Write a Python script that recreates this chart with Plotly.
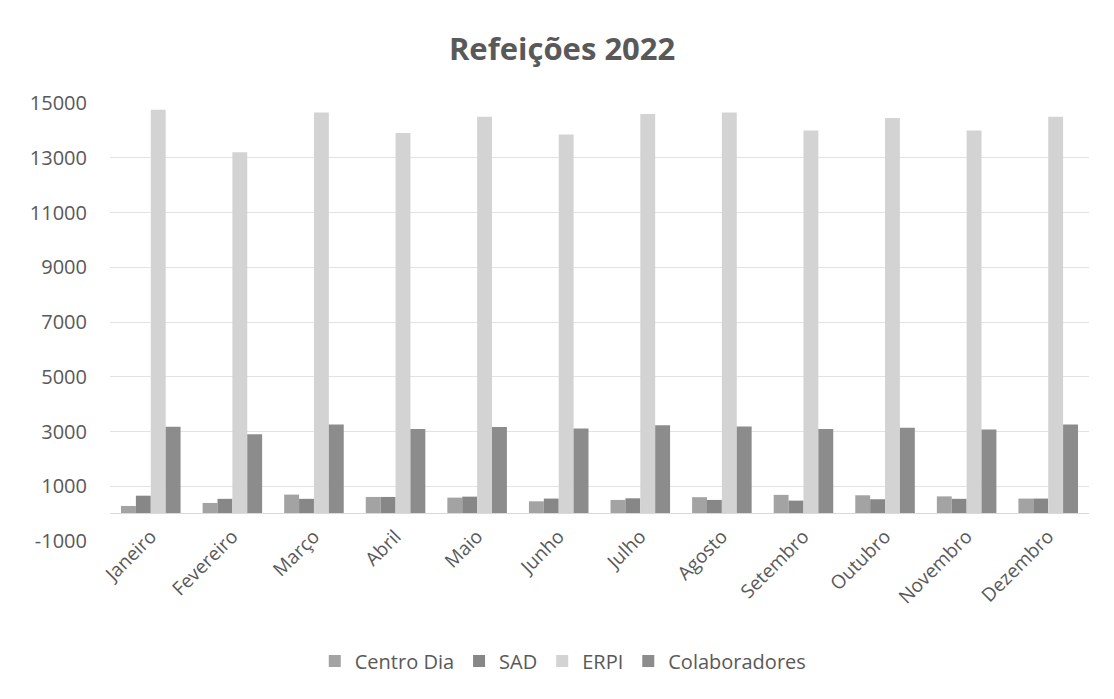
import plotly.graph_objects as go

months = ["Janeiro", "Fevereiro", "Março", "Abril", "Maio", "Junho", "Julho",
          "Agosto", "Setembro", "Outubro", "Novembro", "Dezembro"]
centro_dia = [280, 390, 695, 610, 585, 450, 500, 600, 685, 670, 630, 550]
sad = [655, 540, 540, 610, 620, 550, 560, 500, 475, 525, 540, 550]
erpi = [14750, 13200, 14650, 13900, 14500, 13850, 14600, 14650, 14000, 14450, 14000, 14500]
colaboradores = [3170, 2900, 3260, 3090, 3160, 3110, 3230, 3180, 3090, 3135, 3075, 3260]
y_ticks = [-1000, 1000, 3000, 5000, 7000, 9000, 11000, 13000, 15000]
y_tick_labels = ["-1000", "1000", "3000", "5000", "7000", "9000", "11000", "13000", "15000"]

series = [
    ("Centro Dia", centro_dia, "#a3a3a3"),
    ("SAD", sad, "#878787"),
    ("ERPI", erpi, "#d3d3d3"),
    ("Colaboradores", colaboradores, "#8c8c8c"),
]

fig = go.Figure()
for name, vals, color in series:
    fig.add_trace(go.Bar(x=months, y=vals, name=name, marker_color=color,
                         marker_line_width=0))

font_family = "Open Sans, Lato, sans-serif"
fig.update_layout(
    width=1106, height=691,
    paper_bgcolor="white", plot_bgcolor="white",
    margin=dict(l=102, r=25, t=95, b=158),
    barmode="group", bargap=0.27, bargroupgap=0,
    title=dict(text="<b>Refeições 2022</b>", x=0.501, xanchor="center", y=0.941, yanchor="middle",
               font=dict(family=font_family, size=31, color="#595959")),
    font=dict(family=font_family, color="#595959"),
    legend=dict(orientation="h", x=0.463, xanchor="center", y=-0.274, yanchor="middle",
                font=dict(size=20, color="#595959"), traceorder="normal"),
    showlegend=True,
)
fig.update_yaxes(range=[-1000, 15000], tickvals=y_ticks, ticktext=y_tick_labels,
                 domain=[0, 1],
                 showgrid=True, gridcolor="#e3e3e3", gridwidth=1,
                 zeroline=False,
                 tickfont=dict(size=20, color="#595959"), ticks="", showline=False,
                 automargin=False, ticklabelstandoff=22)
fig.update_xaxes(tickangle=-45, tickfont=dict(size=19, color="#595959"),
                 anchor="free", position=0.064,
                 showline=True, linecolor="#d9d9d9", linewidth=1,
                 ticks="", automargin=False, ticklabelstandoff=4)

fig.write_html("out.html")
